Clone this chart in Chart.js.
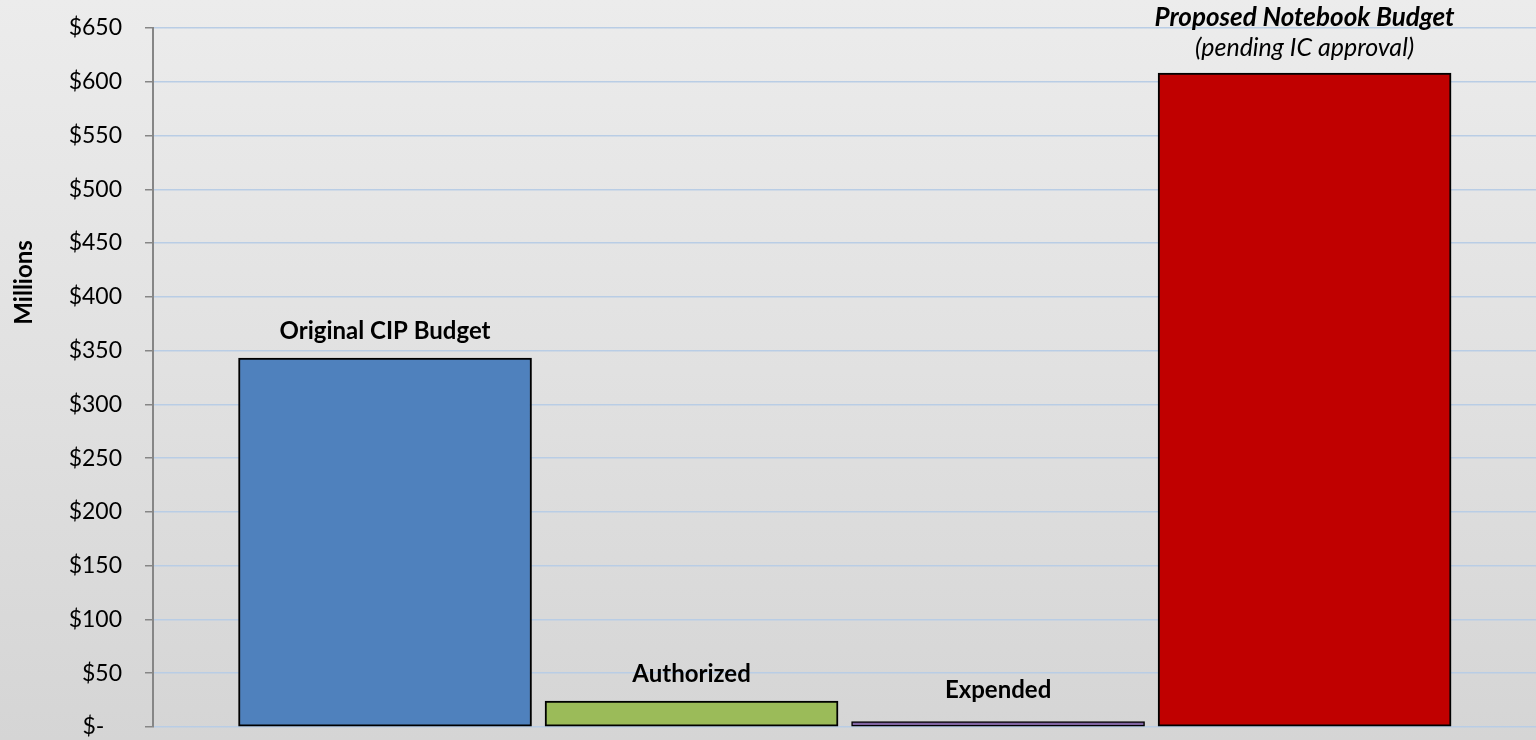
<!DOCTYPE html>
<html>
<head>
<meta charset="utf-8">
<script src="https://cdn.jsdelivr.net/npm/chart.js@4"></script>
<style>
  html, body { margin: 0; padding: 0; }
  body {
    width: 1536px; height: 740px; overflow: hidden;
    background: linear-gradient(to bottom, #ececec 0%, #e1e1e1 50%, #d5d5d5 100%);
  }
  #wrap { position: relative; width: 1536px; height: 740px; }
</style>
</head>
<body>
<div id="wrap"><canvas id="budgetChart"></canvas></div>
<script>
// data (millions of dollars)
var categories = ['Original CIP Budget', 'Authorized', 'Expended', 'Proposed Notebook Budget'];
var subLabels = ['', '', '', '(pending IC approval)'];
var budgetValues = [343, 24, 5, 608];
var barColors = ['#4f81bd', '#9bbb59', '#8064a2', '#c00000'];
var yTicks = { min: 0, max: 650, step: 50 };

var FONT = 'Lato, "Open Sans", sans-serif';

// bar captions and the rotated axis caption
var captionPlugin = {
  id: 'captions',
  afterDatasetsDraw: function (chart) {
    var ctx = chart.ctx;
    var meta = chart.getDatasetMeta(0);
    ctx.save();
    ctx.fillStyle = '#000';
    ctx.textAlign = 'center';
    ctx.textBaseline = 'alphabetic';
    meta.data.forEach(function (bar, i) {
      if (subLabels[i]) {
        ctx.font = 'italic 25px ' + FONT;
        ctx.fillText(subLabels[i], bar.x, bar.y - 17);
        ctx.font = 'italic bold 26px ' + FONT;
        ctx.fillText(categories[i], bar.x, bar.y - 47);
      } else {
        ctx.font = 'bold 24px ' + FONT;
        ctx.fillText(categories[i], bar.x, Math.min(bar.y - 19, chart.chartArea.bottom - 29));
      }
    });
    // "Millions" axis caption
    var area = chart.chartArea;
    ctx.translate(24, area.top + (area.bottom - area.top) * 0.364);
    ctx.rotate(-Math.PI / 2);
    ctx.font = 'bold 24px ' + FONT;
    ctx.textBaseline = 'middle';
    ctx.fillText('Millions', 0, 0);
    ctx.restore();
  }
};

var points = budgetValues.map(function (v, i) { return { x: i + 1, y: v }; });

var chart = new Chart(document.getElementById('budgetChart'), {
  type: 'bar',
  data: {
    datasets: [{
      data: points,
      backgroundColor: barColors,
      borderColor: '#000000',
      borderWidth: [2, 2, 1.5, 2],
      borderSkipped: false,
      barThickness: 293
    }]
  },
  options: {
    responsive: true,
    maintainAspectRatio: false,
    animation: false,
    layout: { padding: { top: 28, bottom: 13, right: 0, left: 0 } },
    plugins: { legend: { display: false }, tooltip: { enabled: false } },
    scales: {
      x: {
        type: 'linear',
        display: false,
        offset: false,
        min: 0.243,
        max: 4.755
      },
      y: {
        min: yTicks.min,
        max: yTicks.max,
        afterFit: function (scale) {
          scale.width = 153;
          scale.paddingTop = 0;
          scale.paddingBottom = 0;
        },
        ticks: {
          stepSize: yTicks.step,
          padding: 23,
          color: '#000',
          font: { family: FONT, size: 23 },
          callback: function (v) { return v === 0 ? '$-   ' : '$' + v; }
        },
        grid: {
          color: '#b9cde5',
          lineWidth: 1.5,
          tickColor: '#868686',
          tickLength: 8
        },
        border: { color: '#868686', width: 2 }
      }
    }
  },
  plugins: [captionPlugin]
});
</script>
</body>
</html>
